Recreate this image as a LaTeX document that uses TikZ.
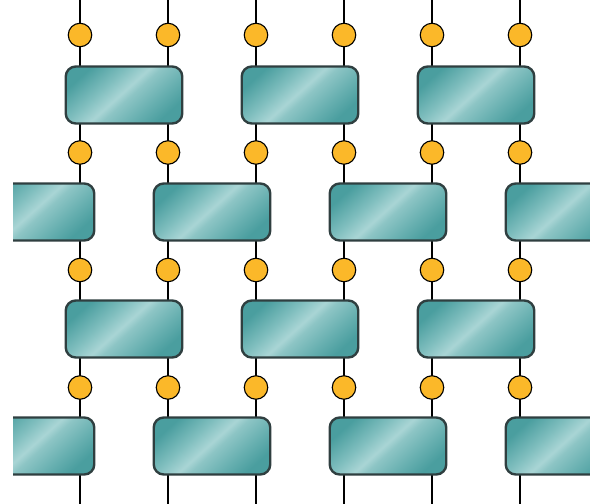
\documentclass[tikz,border=0pt]{standalone}
\definecolor{tealdark}{HTML}{4A9E9F}
\definecolor{tealmid}{HTML}{7FBEBE}
\definecolor{teallight}{HTML}{A9D5D5}
\definecolor{tealafter}{HTML}{8DC5C5}
\definecolor{boxedge}{HTML}{2F3F40}
\definecolor{dotfill}{HTML}{FBB829}
% glossy diagonal sheen for the tensor blocks
\pgfdeclarehorizontalshading{glossy}{100bp}{%
  color(0bp)=(tealdark); color(25bp)=(tealdark); color(39bp)=(tealmid);
  color(48.5bp)=(teallight); color(53bp)=(tealafter); color(65bp)=(tealmid!55!tealdark);
  color(75bp)=(tealdark); color(100bp)=(tealdark)}
\tikzset{
  wire/.style={draw=black, line width=1.1pt},
  dot/.style={circle, draw=black, line width=1.1pt, fill=dotfill,
    minimum size=23.5pt, inner sep=0pt},
  tensor/.style={rectangle, rounded corners=10pt, draw=boxedge, line width=2.4pt,
    minimum width=116.5pt, minimum height=57pt, inner sep=0pt,
    shading=glossy, shading angle=-48}
}
\begin{document}
\begin{tikzpicture}[x=1pt, y=-1pt]
\useasboundingbox (0,0) rectangle (590,504);
% vertical legs
\foreach \c/\x in {1/80,2/168,3/256,4/344,5/432,6/520} {
  \coordinate (top\c) at (\x,0);
  \coordinate (bot\c) at (\x,504);
  \draw[wire] (top\c) -- (bot\c);
}
% tensor blocks, clipped at the frame
\begin{scope}
\clip (13,0) rectangle (590,504);
\foreach \r/\y in {1/95,3/329} {
  \foreach \k/\x in {1/124,2/300,3/476}
    \node[tensor] (t\r\k) at (\x,\y) {};
}
\foreach \r/\y in {2/212,4/446} {
  \foreach \k/\x in {0/36,1/212,2/388,3/564}
    \node[tensor] (t\r\k) at (\x,\y) {};
}
\end{scope}
% physical index dots
\foreach \r/\y in {1/35,2/152.5,3/270,4/387.5} {
  \foreach \c/\x in {1/80,2/168,3/256,4/344,5/432,6/520}
    \node[dot] (d\r\c) at (\x,\y) {};
}
\end{tikzpicture}
\end{document}
